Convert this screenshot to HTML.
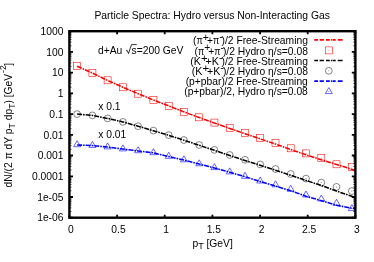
<!DOCTYPE html>
<html><head><meta charset="utf-8"><title>Particle Spectra</title>
<style>html,body{margin:0;padding:0;background:#fff}svg{display:block;opacity:0.999;will-change:transform}text{font-family:"Liberation Sans",sans-serif;font-size:10.3px;fill:#000}</style></head><body>
<svg width="374" height="262" viewBox="0 0 374 262">
<rect width="374" height="262" fill="#fff"/>
<text x="212.2" y="18.8" text-anchor="middle" textLength="235.6" lengthAdjust="spacingAndGlyphs">Particle Spectra: Hydro versus Non-Interacting Gas</text>
<text x="63.5" y="221.4" text-anchor="end">1e-06</text>
<text x="63.5" y="200.7" text-anchor="end">1e-05</text>
<text x="63.5" y="180.0" text-anchor="end">0.0001</text>
<text x="63.5" y="159.2" text-anchor="end">0.001</text>
<text x="63.5" y="138.5" text-anchor="end">0.01</text>
<text x="63.5" y="117.8" text-anchor="end">0.1</text>
<text x="63.5" y="97.1" text-anchor="end">1</text>
<text x="63.5" y="76.3" text-anchor="end">10</text>
<text x="63.5" y="55.6" text-anchor="end">100</text>
<text x="63.5" y="34.9" text-anchor="end">1000</text>
<text x="70.8" y="232.6" text-anchor="middle">0</text>
<text x="118.5" y="232.6" text-anchor="middle">0.5</text>
<text x="166.1" y="232.6" text-anchor="middle">1</text>
<text x="213.8" y="232.6" text-anchor="middle">1.5</text>
<text x="261.5" y="232.6" text-anchor="middle">2</text>
<text x="309.1" y="232.6" text-anchor="middle">2.5</text>
<text x="356.8" y="232.6" text-anchor="middle">3</text>
<text x="192.4" y="246.7">p<tspan dy="2.5" font-size="9px">T</tspan><tspan dy="-2.5"> [GeV]</tspan></text>
<text transform="translate(12.2 187.4) rotate(-90)" font-size="10.2px">dN/(2 π dY p<tspan dy="2.5" font-size="8.6px">T</tspan><tspan dy="-2.5"> dp</tspan><tspan dy="2.5" font-size="8.6px">T</tspan><tspan dy="-2.5">) [GeV</tspan><tspan dx="0.9" dy="-5.8" font-size="8.6px">-2</tspan><tspan dx="-0.5" dy="5.8">]</tspan></text>
<text x="98.0" y="53.6">d+Au</text><text x="131.6" y="53.6">s=200 GeV</text>
<path d="M126.1 50.9l1.1-0.6l1.3 3.3l3-9h5.2" fill="none" stroke="#000" stroke-width="0.8"/>
<text x="98.2" y="110.3">x 0.1</text>
<text x="98.2" y="138">x 0.01</text>
<text transform="translate(193.09 44.0) scale(1.00 1)" font-size="10.3px">(</text>
<text transform="translate(196.53 44.0) scale(0.88 1)" font-size="10.3px">π</text>
<text transform="translate(202.79 40.7) scale(1.00 1)" font-size="7.0px">+</text>
<text transform="translate(206.88 44.0) scale(1.00 1)" font-size="10.3px">+</text>
<text transform="translate(212.91 44.0) scale(0.88 1)" font-size="10.3px">π</text>
<text transform="translate(219.17 39.9) scale(1.00 1)" font-size="7.0px">-</text>
<text transform="translate(221.51 44.0) scale(1.00 1)" font-size="10.3px">)/2 Free-Streaming</text>
<text transform="translate(194.50 54.6) scale(1.00 1)" font-size="10.3px">(</text>
<text transform="translate(197.94 54.6) scale(0.88 1)" font-size="10.3px">π</text>
<text transform="translate(204.21 51.3) scale(1.00 1)" font-size="7.0px">+</text>
<text transform="translate(208.30 54.6) scale(1.00 1)" font-size="10.3px">+</text>
<text transform="translate(214.32 54.6) scale(0.88 1)" font-size="10.3px">π</text>
<text transform="translate(220.59 50.5) scale(1.00 1)" font-size="7.0px">-</text>
<text transform="translate(222.92 54.6) scale(1.00 1)" font-size="10.3px">)/2 Hydro η/s=0.08</text>
<text transform="translate(190.28 64.8) scale(1.04 1)" font-size="10.3px">(K</text>
<text transform="translate(201.02 61.5) scale(1.10 1)" font-size="7.0px">+</text>
<text transform="translate(205.51 64.8) scale(1.04 1)" font-size="10.3px">+K</text>
<text transform="translate(218.94 60.7) scale(1.10 1)" font-size="7.0px">-</text>
<text transform="translate(221.51 64.8) scale(1.00 1)" font-size="10.3px">)/2 Free-Streaming</text>
<text transform="translate(191.70 75.3) scale(1.04 1)" font-size="10.3px">(K</text>
<text transform="translate(202.43 72.0) scale(1.10 1)" font-size="7.0px">+</text>
<text transform="translate(206.93 75.3) scale(1.04 1)" font-size="10.3px">+K</text>
<text transform="translate(220.36 71.2) scale(1.10 1)" font-size="7.0px">-</text>
<text transform="translate(222.92 75.3) scale(1.00 1)" font-size="10.3px">)/2 Hydro η/s=0.08</text>
<text transform="translate(185.65 85.2) scale(1.00 1)" font-size="10.3px">(p+pbar)/2 Free-Streaming</text>
<text transform="translate(184.20 94.8) scale(1.00 1)" font-size="10.3px">(p+pbar)/2, Hydro η/s=0.08</text>
<path d="M314.3 39.8H342.6" stroke="#ff0000" stroke-width="1.7" fill="none" stroke-dasharray="3.7 1.6 4.3 2.1 3.8 1.1 1 0.6 3.2 2.1 4.8"/>
<path d="M314.3 60.5H342.6" stroke="#000000" stroke-width="1.7" fill="none" stroke-dasharray="3.7 1.6 4.3 2.1 3.8 1.1 1 0.6 3.2 2.1 4.8"/>
<path d="M314.3 81.2H342.6" stroke="#0000ff" stroke-width="1.7" fill="none" stroke-dasharray="3.7 1.6 4.3 2.1 3.8 1.1 1 0.6 3.2 2.1 4.8"/>
<path d="M77.1 66.3 L92.4 73.1 L107.6 80.4 L122.9 87.3 L138.1 93.7 L153.4 100.0 L168.7 105.9 L183.9 111.9 L199.2 117.6 L214.4 123.0 L229.7 128.4 L245.0 133.7 L260.2 138.9 L275.5 144.1 L290.7 149.5 L306.0 154.8 L321.3 159.8 L336.5 164.4 L351.8 169.3 L355.4 171.2" stroke="#ff0000" stroke-width="1.55" fill="none" stroke-dasharray="5 1 1.6 1"/>
<path d="M77.1 114.1 L92.4 115.4 L107.6 118.4 L122.9 121.9 L138.1 126.2 L153.4 130.7 L168.7 135.3 L183.9 140.2 L199.2 145.3 L214.4 150.3 L229.7 155.5 L245.0 160.5 L260.2 165.3 L275.5 170.2 L290.7 175.3 L306.0 180.4 L321.3 185.5 L336.5 191.1 L351.8 196.3 L355.4 197.7" stroke="#000" stroke-width="1.55" fill="none" stroke-dasharray="5 1 1.6 1"/>
<path d="M77.1 144.9 L92.4 145.6 L107.6 147.1 L122.9 149.1 L138.1 150.9 L153.4 152.9 L168.7 156.5 L183.9 160.1 L199.2 164.1 L214.4 168.0 L229.7 172.2 L245.0 176.7 L260.2 181.5 L275.5 186.0 L290.7 190.7 L306.0 196.2 L321.3 200.7 L336.5 205.3 L351.8 208.3 L355.4 208.8" stroke="#0000ff" stroke-width="1.55" fill="none" stroke-dasharray="5 1 1.6 1"/>
<g fill="none" stroke="#ff0000" stroke-width="0.55"><rect x="73.6" y="62.7" width="7" height="7"/><rect x="88.9" y="69.5" width="7" height="7"/><rect x="104.1" y="76.8" width="7" height="7"/><rect x="119.4" y="83.8" width="7" height="7"/><rect x="134.6" y="90.2" width="7" height="7"/><rect x="149.9" y="96.4" width="7" height="7"/><rect x="165.2" y="102.3" width="7" height="7"/><rect x="180.4" y="108.3" width="7" height="7"/><rect x="195.7" y="113.8" width="7" height="7"/><rect x="210.9" y="119.1" width="7" height="7"/><rect x="226.2" y="124.4" width="7" height="7"/><rect x="241.5" y="129.5" width="7" height="7"/><rect x="256.7" y="134.5" width="7" height="7"/><rect x="272.0" y="139.5" width="7" height="7"/><rect x="287.2" y="144.8" width="7" height="7"/><rect x="302.5" y="149.9" width="7" height="7"/><rect x="317.8" y="154.4" width="7" height="7"/><rect x="333.0" y="160.8" width="7" height="7"/><rect x="348.3" y="163.4" width="7" height="7"/><rect x="325.3" y="46.9" width="7" height="7"/></g>
<g fill="none" stroke="#000" stroke-opacity="0.8" stroke-width="0.6"><circle cx="77.1" cy="114.1" r="3.4"/><circle cx="92.4" cy="115.4" r="3.4"/><circle cx="107.6" cy="118.4" r="3.4"/><circle cx="122.9" cy="121.9" r="3.4"/><circle cx="138.1" cy="126.2" r="3.4"/><circle cx="153.4" cy="130.6" r="3.4"/><circle cx="168.7" cy="135.1" r="3.4"/><circle cx="183.9" cy="140.0" r="3.4"/><circle cx="199.2" cy="145.0" r="3.4"/><circle cx="214.4" cy="149.9" r="3.4"/><circle cx="229.7" cy="155.0" r="3.4"/><circle cx="245.0" cy="159.8" r="3.4"/><circle cx="260.2" cy="164.4" r="3.4"/><circle cx="275.5" cy="169.0" r="3.4"/><circle cx="290.7" cy="174.0" r="3.4"/><circle cx="306.0" cy="178.6" r="3.4"/><circle cx="321.3" cy="182.6" r="3.4"/><circle cx="336.5" cy="186.9" r="3.4"/><circle cx="351.8" cy="191.1" r="3.4"/><circle cx="328.8" cy="70.8" r="3.4"/></g>
<g fill="none" stroke="#0000ff" stroke-width="0.6"><path d="M77.1 140.7l3.5 6h-7z"/><path d="M92.4 141.4l3.5 6h-7z"/><path d="M107.6 142.9l3.5 6h-7z"/><path d="M122.9 144.9l3.5 6h-7z"/><path d="M138.1 146.7l3.5 6h-7z"/><path d="M153.4 148.7l3.5 6h-7z"/><path d="M168.7 152.3l3.5 6h-7z"/><path d="M183.9 155.8l3.5 6h-7z"/><path d="M199.2 159.8l3.5 6h-7z"/><path d="M214.4 163.6l3.5 6h-7z"/><path d="M229.7 167.9l3.5 6h-7z"/><path d="M245.0 172.3l3.5 6h-7z"/><path d="M260.2 177.0l3.5 6h-7z"/><path d="M275.5 180.8l3.5 6h-7z"/><path d="M290.7 185.3l3.5 6h-7z"/><path d="M306.0 191.0l3.5 6h-7z"/><path d="M321.3 195.0l3.5 6h-7z"/><path d="M336.5 199.3l3.5 6h-7z"/><path d="M351.8 204.6l3.5 6h-7z"/><path d="M328.8 87.6l3.5 6h-7z"/></g>
<circle cx="328.8" cy="50.4" r="0.5" fill="#f00" fill-opacity="0.55"/><circle cx="328.8" cy="70.8" r="0.5" fill="#000" fill-opacity="0.55"/><circle cx="328.8" cy="91.6" r="0.5" fill="#00f" fill-opacity="0.55"/><circle cx="306.0" cy="178.6" r="0.5" fill="#000" fill-opacity="0.55"/><circle cx="321.3" cy="182.6" r="0.5" fill="#000" fill-opacity="0.55"/><circle cx="336.5" cy="186.9" r="0.5" fill="#000" fill-opacity="0.55"/><circle cx="351.8" cy="191.1" r="0.5" fill="#000" fill-opacity="0.55"/><circle cx="306.0" cy="153.4" r="0.5" fill="#f00" fill-opacity="0.55"/><circle cx="321.3" cy="157.9" r="0.5" fill="#f00" fill-opacity="0.55"/><circle cx="336.5" cy="164.3" r="0.5" fill="#f00" fill-opacity="0.55"/><circle cx="351.8" cy="166.9" r="0.5" fill="#f00" fill-opacity="0.55"/>
<path d="M69.4 211.5h2.0 M355.4 211.5h-2.0 M69.4 207.8h2.0 M355.4 207.8h-2.0 M69.4 205.2h2.0 M355.4 205.2h-2.0 M69.4 203.2h2.0 M355.4 203.2h-2.0 M69.4 201.6h2.0 M355.4 201.6h-2.0 M69.4 200.2h2.0 M355.4 200.2h-2.0 M69.4 199.0h2.0 M355.4 199.0h-2.0 M69.4 197.9h2.0 M355.4 197.9h-2.0 M69.4 190.7h2.0 M355.4 190.7h-2.0 M69.4 187.1h2.0 M355.4 187.1h-2.0 M69.4 184.5h2.0 M355.4 184.5h-2.0 M69.4 182.5h2.0 M355.4 182.5h-2.0 M69.4 180.9h2.0 M355.4 180.9h-2.0 M69.4 179.5h2.0 M355.4 179.5h-2.0 M69.4 178.3h2.0 M355.4 178.3h-2.0 M69.4 177.2h2.0 M355.4 177.2h-2.0 M69.4 170.0h2.0 M355.4 170.0h-2.0 M69.4 166.4h2.0 M355.4 166.4h-2.0 M69.4 163.8h2.0 M355.4 163.8h-2.0 M69.4 161.8h2.0 M355.4 161.8h-2.0 M69.4 160.1h2.0 M355.4 160.1h-2.0 M69.4 158.7h2.0 M355.4 158.7h-2.0 M69.4 157.5h2.0 M355.4 157.5h-2.0 M69.4 156.5h2.0 M355.4 156.5h-2.0 M69.4 149.3h2.0 M355.4 149.3h-2.0 M69.4 145.6h2.0 M355.4 145.6h-2.0 M69.4 143.1h2.0 M355.4 143.1h-2.0 M69.4 141.0h2.0 M355.4 141.0h-2.0 M69.4 139.4h2.0 M355.4 139.4h-2.0 M69.4 138.0h2.0 M355.4 138.0h-2.0 M69.4 136.8h2.0 M355.4 136.8h-2.0 M69.4 135.8h2.0 M355.4 135.8h-2.0 M69.4 128.6h2.0 M355.4 128.6h-2.0 M69.4 124.9h2.0 M355.4 124.9h-2.0 M69.4 122.3h2.0 M355.4 122.3h-2.0 M69.4 120.3h2.0 M355.4 120.3h-2.0 M69.4 118.7h2.0 M355.4 118.7h-2.0 M69.4 117.3h2.0 M355.4 117.3h-2.0 M69.4 116.1h2.0 M355.4 116.1h-2.0 M69.4 115.0h2.0 M355.4 115.0h-2.0 M69.4 107.9h2.0 M355.4 107.9h-2.0 M69.4 104.2h2.0 M355.4 104.2h-2.0 M69.4 101.6h2.0 M355.4 101.6h-2.0 M69.4 99.6h2.0 M355.4 99.6h-2.0 M69.4 98.0h2.0 M355.4 98.0h-2.0 M69.4 96.6h2.0 M355.4 96.6h-2.0 M69.4 95.4h2.0 M355.4 95.4h-2.0 M69.4 94.3h2.0 M355.4 94.3h-2.0 M69.4 87.1h2.0 M355.4 87.1h-2.0 M69.4 83.5h2.0 M355.4 83.5h-2.0 M69.4 80.9h2.0 M355.4 80.9h-2.0 M69.4 78.9h2.0 M355.4 78.9h-2.0 M69.4 77.2h2.0 M355.4 77.2h-2.0 M69.4 75.9h2.0 M355.4 75.9h-2.0 M69.4 74.7h2.0 M355.4 74.7h-2.0 M69.4 73.6h2.0 M355.4 73.6h-2.0 M69.4 66.4h2.0 M355.4 66.4h-2.0 M69.4 62.8h2.0 M355.4 62.8h-2.0 M69.4 60.2h2.0 M355.4 60.2h-2.0 M69.4 58.2h2.0 M355.4 58.2h-2.0 M69.4 56.5h2.0 M355.4 56.5h-2.0 M69.4 55.1h2.0 M355.4 55.1h-2.0 M69.4 53.9h2.0 M355.4 53.9h-2.0 M69.4 52.9h2.0 M355.4 52.9h-2.0 M69.4 45.7h2.0 M355.4 45.7h-2.0 M69.4 42.0h2.0 M355.4 42.0h-2.0 M69.4 39.4h2.0 M355.4 39.4h-2.0 M69.4 37.4h2.0 M355.4 37.4h-2.0 M69.4 35.8h2.0 M355.4 35.8h-2.0 M69.4 34.4h2.0 M355.4 34.4h-2.0 M69.4 33.2h2.0 M355.4 33.2h-2.0 M69.4 32.1h2.0 M355.4 32.1h-2.0" stroke="#000" stroke-width="0.8" fill="none"/>
<path d="M69.4 217.7h3.6 M355.4 217.7h-3.6 M69.4 197.0h3.6 M355.4 197.0h-3.6 M69.4 176.3h3.6 M355.4 176.3h-3.6 M69.4 155.5h3.6 M355.4 155.5h-3.6 M69.4 134.8h3.6 M355.4 134.8h-3.6 M69.4 114.1h3.6 M355.4 114.1h-3.6 M69.4 93.4h3.6 M355.4 93.4h-3.6 M69.4 72.6h3.6 M355.4 72.6h-3.6 M69.4 51.9h3.6 M355.4 51.9h-3.6 M69.4 31.2h3.6 M355.4 31.2h-3.6 M69.4 217.7v-3 M69.4 31.2v3 M117.1 217.7v-3 M117.1 31.2v3 M164.7 217.7v-3 M164.7 31.2v3 M212.4 217.7v-3 M212.4 31.2v3 M260.1 217.7v-3 M260.1 31.2v3 M307.7 217.7v-3 M307.7 31.2v3 M355.4 217.7v-3 M355.4 31.2v3" stroke="#000" stroke-width="1.8" fill="none"/>
<rect x="69.4" y="31.2" width="286.0" height="186.5" fill="none" stroke="#000" stroke-width="2.4"/>
</svg></body></html>
